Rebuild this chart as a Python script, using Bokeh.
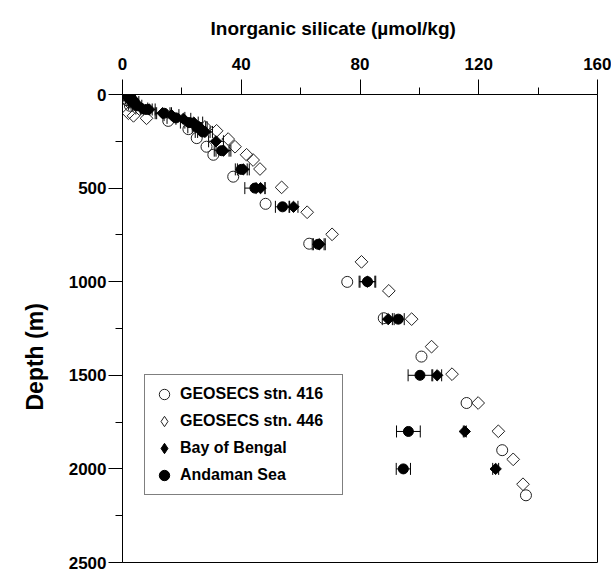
import numpy as np
from bokeh.plotting import figure
from bokeh.models import (Range1d, ColumnDataSource, Whisker, TeeHead, Legend,
                          LegendItem, FixedTicker, Title)
from bokeh.embed import file_html
from bokeh.resources import INLINE

# ---------------- data ----------------
x_ticks = [0, 40, 80, 120, 160]
x_minor = [20, 60, 100, 140]
y_ticks = [0, 500, 1000, 1500, 2000, 2500]
y_minor = [250, 750, 1250, 1750, 2250]

g416_depth = [0, 30, 60, 141, 185, 233, 279, 322, 439, 584, 797, 1001, 1195, 1400, 1648, 1900, 2141]
g416_si = [1.0, 1.5, 2.5, 15.4, 22.2, 25.0, 28.3, 30.6, 37.3, 48.2, 62.9, 75.7, 88.0, 100.7, 115.9, 127.9, 135.9]

g446_depth = [0, 40, 100, 114, 127, 173, 194, 238, 279, 322, 350, 398, 496, 629, 747, 894, 1049, 1200,
              1347, 1494, 1648, 1799, 1949, 2082]
g446_si = [1.5, 2.0, 2.0, 3.7, 8.1, 27.8, 31.7, 35.6, 37.9, 41.8, 44.0, 46.3, 53.6, 62.2, 70.6, 80.5, 89.7,
           97.4, 104.1, 111.0, 119.8, 126.6, 131.6, 134.9]

bob_depth = [0, 10, 20, 30, 50, 75, 80, 100, 110, 130, 150, 175, 200, 250, 300, 400, 500, 600, 800, 1000,
             1200, 1500, 1800, 2000]
bob_si = [1.0, 1.5, 2.0, 2.5, 3.5, 6.5, 9.0, 13.5, 16.5, 20.5, 24.0, 26.0, 27.8, 31.5, 34.0, 40.7, 46.5,
          57.6, 66.3, 82.5, 89.5, 106.0, 115.3, 125.7]
bob_err = [1.0, 1.0, 1.0, 1.0, 1.5, 2.0, 2.0, 2.5, 2.5, 2.5, 3.0, 2.5, 2.5, 2.5, 2.5, 2.0, 1.5, 1.5, 2.0,
           2.5, 2.0, 1.5, 0.5, 1.0]

and_depth = [0, 10, 20, 40, 60, 80, 100, 125, 150, 175, 200, 300, 400, 500, 600, 800, 1000, 1200, 1500,
             1800, 2000]
and_si = [2.0, 2.5, 3.0, 4.0, 5.0, 8.0, 14.0, 18.0, 22.5, 25.0, 27.0, 33.4, 40.0, 44.6, 53.9, 65.9, 82.5,
          92.9, 100.2, 96.3, 94.6]
and_err = [1.0, 1.0, 1.0, 1.5, 1.5, 2.0, 2.5, 3.0, 3.0, 3.0, 2.5, 2.5, 2.0, 3.4, 2.4, 2.0, 2.8, 2.0, 4.0,
           4.0, 2.4]

FONT = "Liberation Sans"

p = figure(width=611, height=571, x_range=Range1d(0, 160), y_range=Range1d(2500, 0),
           x_axis_location="above", output_backend="svg", toolbar_location=None,
           min_border_left=122, min_border_right=14, min_border_top=94, min_border_bottom=9)
p.background_fill_color = "white"
p.border_fill_color = "white"
p.outline_line_color = "black"
p.outline_line_width = 1
p.xgrid.visible = False
p.ygrid.visible = False

p.xaxis.ticker = FixedTicker(ticks=x_ticks, minor_ticks=x_minor)
p.yaxis.ticker = FixedTicker(ticks=y_ticks, minor_ticks=y_minor)
for ax in (p.xaxis[0], p.yaxis[0]):
    ax.axis_line_color = "black"
    ax.major_tick_line_color = "black"
    ax.minor_tick_line_color = "black"
    ax.major_tick_in = 0
    ax.minor_tick_in = 0
    ax.minor_tick_out = 7
    ax.major_label_text_font = FONT
    ax.major_label_text_font_style = "bold"
    ax.major_label_text_font_size = "17px"
    ax.major_label_text_color = "black"

p.xaxis.major_tick_out = 15
p.xaxis.major_label_standoff = 10
p.yaxis.major_tick_out = 14
p.yaxis.major_label_standoff = 2

# axis names as titles (offset places them as in the original)
xtitle = Title(text="Inorganic silicate (µmol/kg)", align="left", offset=88,
               vertical_align="top", text_font=FONT, text_font_style="bold",
               text_font_size="19px", text_color="black", standoff=27)
p.add_layout(xtitle, "above")

ytitle = Title(text="Depth (m)", align="left", offset=152,
               text_font=FONT, text_font_style="bold", text_font_size="23px",
               text_color="black", standoff=36)
p.add_layout(ytitle, "left")

# open markers
r416 = p.scatter(g416_si, g416_depth, marker="circle", size=11, fill_color=None,
                 line_color="#222222", line_width=1)
r446 = p.scatter(g446_si, g446_depth, marker="square", angle=np.pi / 4, size=9, fill_color=None,
                 line_color="#222222", line_width=1)

# error bars
bob_src = ColumnDataSource(dict(d=bob_depth, x=bob_si,
                                lo=[a - b for a, b in zip(bob_si, bob_err)],
                                hi=[a + b for a, b in zip(bob_si, bob_err)]))
and_src = ColumnDataSource(dict(d=and_depth, x=and_si,
                                lo=[a - b for a, b in zip(and_si, and_err)],
                                hi=[a + b for a, b in zip(and_si, and_err)]))
for src in (bob_src, and_src):
    w = Whisker(source=src, base="d", lower="lo", upper="hi", dimension="width",
                line_color="black", line_width=1,
                upper_head=TeeHead(size=12, line_color="black", line_width=1),
                lower_head=TeeHead(size=12, line_color="black", line_width=1))
    p.add_layout(w)

rbob = p.scatter("x", "d", source=bob_src, marker="square", angle=np.pi / 4, size=8,
                 fill_color="black", line_color="black")
rand = p.scatter("x", "d", source=and_src, marker="circle", size=10,
                 fill_color="black", line_color="black")

# legend-only glyphs (diamond key); a NaN point draws nothing on the plot
l446 = p.scatter(x=[np.nan], y=[np.nan], marker="diamond", size=15, fill_color=None,
                 line_color="#222222", line_width=1)
lbob = p.scatter(x=[np.nan], y=[np.nan], marker="diamond", size=14, fill_color="black",
                 line_color="black")

legend = Legend(items=[LegendItem(label="GEOSECS stn. 416", renderers=[r416]),
                       LegendItem(label="GEOSECS stn. 446", renderers=[l446]),
                       LegendItem(label="Bay of Bengal", renderers=[lbob]),
                       LegendItem(label="Andaman Sea", renderers=[rand])],
                location=(22, 67))
legend.label_text_font = FONT
legend.label_text_font_style = "bold"
legend.label_text_font_size = "16px"
legend.label_text_color = "black"
legend.border_line_color = "black"
legend.border_line_width = 1
legend.background_fill_color = "white"
legend.background_fill_alpha = 1
legend.padding = 6
legend.spacing = 1
legend.margin = 0
legend.label_height = 26
legend.glyph_height = 26
legend.glyph_width = 26
legend.label_standoff = 3
legend.label_width = 156
p.add_layout(legend)

open("out.html", "w").write(file_html(p, INLINE))
